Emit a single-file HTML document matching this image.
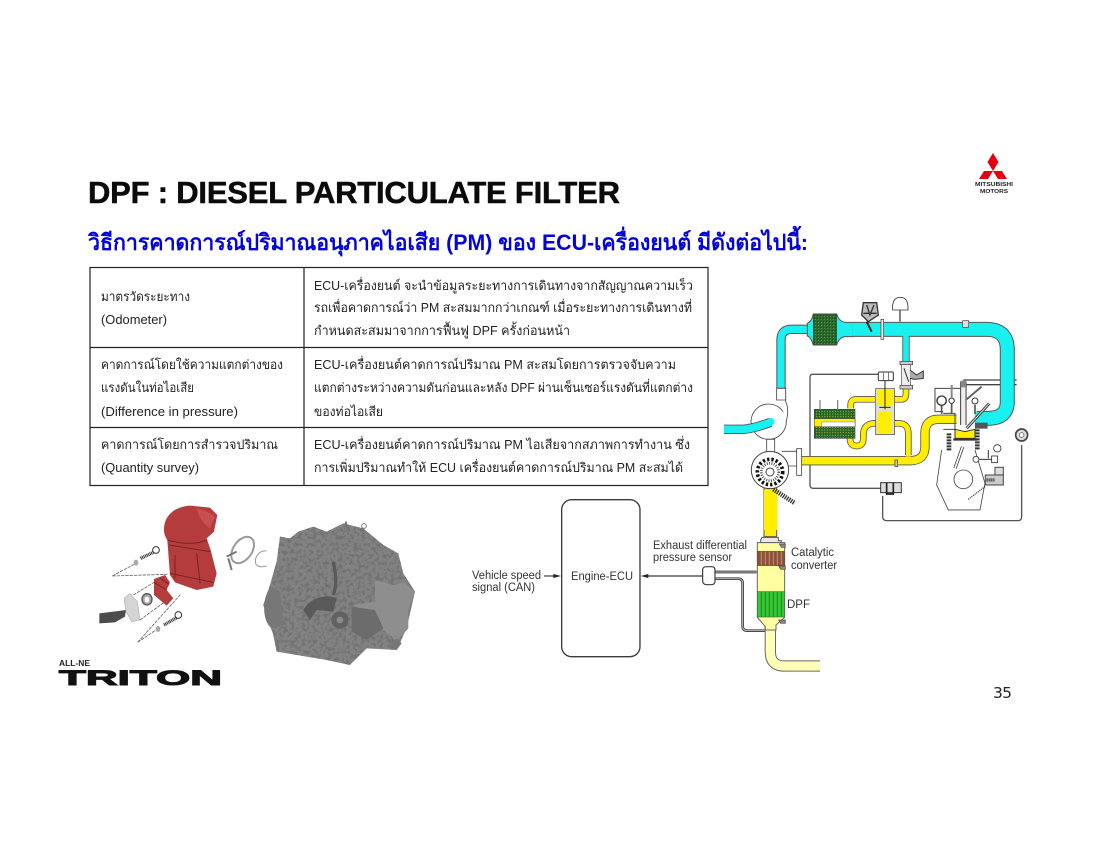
<!DOCTYPE html>
<html lang="th"><head><meta charset="utf-8"><title>DPF</title>
<style>
html,body{margin:0;padding:0;background:#fff}
svg{display:block}
.th{font-family:"Liberation Sans","Noto Sans CJK SC","Noto Sans CJK JP",sans-serif;font-size:12.8px;fill:#222}
.lb{font-family:"Liberation Sans",sans-serif;font-size:11.5px;fill:#333}
</style></head><body>
<svg xmlns="http://www.w3.org/2000/svg" width="1100" height="850" viewBox="0 0 1100 850">
<defs>
<filter id="tex" x="0" y="0" width="100%" height="100%"><feTurbulence type="fractalNoise" baseFrequency="0.09" numOctaves="3" seed="7"/><feColorMatrix values="0 0 0 0 0.17 0 0 0 0 0.17 0 0 0 0 0.17 0 0 0 5 -2.300"/><feComposite in2="SourceGraphic" operator="in"/><feMerge><feMergeNode in="SourceGraphic"/><feMergeNode/></feMerge></filter>
<pattern id="hc" width="9" height="9" patternUnits="userSpaceOnUse"><rect width="9" height="9" fill="#2c6a2c"/><circle cx="4" cy="4" r="1.700" fill="#123c12"/><circle cx="8" cy="8" r="1.200" fill="#8fbf5f"/></pattern>
<pattern id="hc2" width="8" height="8" patternUnits="userSpaceOnUse"><rect width="8" height="8" fill="#2b6a2b"/><circle cx="2" cy="4" r="1.500" fill="#d8d840"/><circle cx="6" cy="2" r="1.200" fill="#123c12"/></pattern>
</defs>

<!-- Title -->
<text x="88" y="203" textLength="532" lengthAdjust="spacing" font-family="Liberation Sans, sans-serif" font-weight="700" font-size="31" fill="#0b0b0b" stroke="#0b0b0b" stroke-width=".5">DPF : DIESEL PARTICULATE FILTER</text>
<text x="88" y="250" textLength="720" lengthAdjust="spacingAndGlyphs" font-family="Liberation Sans, Noto Sans CJK SC, sans-serif" font-weight="700" font-size="22.500" fill="#0404d8">วิธีการคาดการณ์ปริมาณอนุภาคไอเสีย (PM) ของ ECU-เครื่องยนต์ มีดังต่อไปนี้:</text>

<!-- Mitsubishi logo -->
<g fill="#e60012"><polygon points="993,153 998.500,162 993,171 987.500,162"/><polygon points="993,171 984,171 979,179 988,179"/><polygon points="993,171 1002,171 1007,179 998,179"/></g>
<text x="975" y="186" textLength="38" lengthAdjust="spacingAndGlyphs" font-family="Liberation Sans, sans-serif" font-weight="700" font-size="5.800" fill="#222">MITSUBISHI</text>
<text x="980" y="193" textLength="28" lengthAdjust="spacingAndGlyphs" font-family="Liberation Sans, sans-serif" font-weight="700" font-size="5.800" fill="#222">MOTORS</text>

<!-- Table -->
<g fill="none" stroke="#222" stroke-width="1.200"><rect x="90" y="267.500" width="618" height="218"/><path d="M304 267.500V485.500M90 347.500H708M90 427.500H708"/></g>
<g class="th">
<text class="th" x="101" y="301" textLength="89" lengthAdjust="spacingAndGlyphs">มาตรวัดระยะทาง</text>
<text class="th" x="101" y="324" textLength="66" lengthAdjust="spacingAndGlyphs">(Odometer)</text>
<text class="th" x="101" y="369" textLength="182" lengthAdjust="spacingAndGlyphs">คาดการณ์โดยใช้ความแตกต่างของ</text>
<text class="th" x="101" y="392" textLength="93" lengthAdjust="spacingAndGlyphs">แรงดันในท่อไอเสีย</text>
<text class="th" x="101" y="416" textLength="137" lengthAdjust="spacingAndGlyphs">(Difference in pressure)</text>
<text class="th" x="101" y="449" textLength="177" lengthAdjust="spacingAndGlyphs">คาดการณ์โดยการสำรวจปริมาณ</text>
<text class="th" x="101" y="472" textLength="98" lengthAdjust="spacingAndGlyphs">(Quantity survey)</text>
<text class="th" x="314" y="290" textLength="379" lengthAdjust="spacingAndGlyphs">ECU-เครื่องยนต์ จะนำข้อมูลระยะทางการเดินทางจากสัญญาณความเร็ว</text>
<text class="th" x="314" y="312" textLength="378" lengthAdjust="spacingAndGlyphs">รถเพื่อคาดการณ์ว่า PM สะสมมากกว่าเกณฑ์ เมื่อระยะทางการเดินทางที่</text>
<text class="th" x="314" y="335" textLength="256" lengthAdjust="spacingAndGlyphs">กำหนดสะสมมาจากการฟื้นฟู DPF ครั้งก่อนหน้า</text>
<text class="th" x="314" y="369" textLength="362" lengthAdjust="spacingAndGlyphs">ECU-เครื่องยนต์คาดการณ์ปริมาณ PM สะสมโดยการตรวจจับความ</text>
<text class="th" x="314" y="392" textLength="379" lengthAdjust="spacingAndGlyphs">แตกต่างระหว่างความดันก่อนและหลัง DPF ผ่านเซ็นเซอร์แรงดันที่แตกต่าง</text>
<text class="th" x="314" y="416" textLength="69" lengthAdjust="spacingAndGlyphs">ของท่อไอเสีย</text>
<text class="th" x="314" y="449" textLength="376" lengthAdjust="spacingAndGlyphs">ECU-เครื่องยนต์คาดการณ์ปริมาณ PM ไอเสียจากสภาพการทำงาน ซึ่ง</text>
<text class="th" x="314" y="472" textLength="369" lengthAdjust="spacingAndGlyphs">การเพิ่มปริมาณทำให้ ECU เครื่องยนต์คาดการณ์ปริมาณ PM สะสมได้</text>
</g>

<!-- Parts photo group -->
<g transform="translate(50,495) scale(.3333)">
<!-- engine -->
<path filter="url(#tex)" d="M690 125L720 130L745 110L790 95L830 110L880 85L940 100L1000 150L1045 175L1060 235L1095 290L1070 400L1040 465L950 460L900 510L830 495L680 470L670 420L640 330L660 270L680 200Z" fill="#828282"/>
<path d="M880 120L888 80L895 120" stroke="#777" stroke-width="5" fill="none"/><path d="M942 140V105" stroke="#777" stroke-width="4"/>
<circle cx="942" cy="93" r="7" fill="none" stroke="#777" stroke-width="3"/>
<path d="M975 255L1030 270L1065 262L1095 290L1075 345L1075 400L1040 440L1020 420L970 380L910 330L975 320Z" fill="#8e8e8e"/>
<path d="M905 335L975 345L1000 400L950 435L905 410Z" fill="#6c6c6c"/>
<path d="M1040 430L1055 445L1040 465L1010 455Z" fill="#777"/>
<path d="M665 275C635 300 635 380 665 400L700 390L690 290Z" fill="#777"/>
<path d="M760 345C785 300 840 300 860 310L850 350L800 345L780 375Z" fill="#5a5a5a"/>
<circle cx="870" cy="375" r="26" fill="#626262"/><circle cx="870" cy="375" r="10" fill="#8a8a8a"/>
<path d="M850 200C860 250 860 270 850 300" stroke="#5a5a5a" stroke-width="10" fill="none"/>
<!-- DPF -->
<path d="M342 105C342 60 375 35 420 32L480 38L502 60L492 110L470 130L482 165L500 235L490 275L440 285L375 262L360 240L352 135C345 125 342 115 342 105Z" fill="#b43c3c"/>
<path d="M312 252L345 240L360 262L350 285L370 310L350 332L312 300Z" fill="#b43c3c"/>
<path d="M440 40Q480 50 495 65L480 100Q450 80 440 40Z" fill="#c65050"/>
<path d="M352 135Q420 155 472 135M358 150L480 170M360 235L490 262M375 180L375 250M440 175L450 265" stroke="#7f2222" stroke-width="3" fill="none"/>
<path d="M312 262L350 285M330 248L356 268" stroke="#7f2222" stroke-width="3"/>
<!-- flange and pipe -->
<path d="M148 385L195 382L225 365L228 345L190 350L148 355Z" fill="#4c4c4c"/>
<path d="M222 310L240 295L262 320L270 375L245 380L228 350Z" fill="#d5d5d5" stroke="#777"/>
<ellipse cx="291" cy="313" rx="15" ry="17" fill="#aaa" stroke="#555" stroke-width="4"/>
<ellipse cx="291" cy="314" rx="7" ry="9" fill="#fff"/>
<!-- lines -->
<path d="M187 243L258 205M187 243L352 238M250 300L312 262M270 375L345 320M263 442L325 400M263 442L392 298" stroke="#666" stroke-width="2.500" stroke-dasharray="10 3" fill="none"/>
<!-- bolts -->
<path d="M272 190L310 172M342 390L385 365" stroke="#333" stroke-width="10" stroke-dasharray="3 2"/>
<circle cx="318" cy="165" r="10" fill="#fff" stroke="#333" stroke-width="3"/>
<circle cx="385" cy="360" r="10" fill="#fff" stroke="#333" stroke-width="3"/>
<ellipse cx="258" cy="203" rx="7" ry="9" fill="#aaa"/><ellipse cx="324" cy="402" rx="7" ry="9" fill="#aaa"/>
<!-- clamp -->
<ellipse cx="578" cy="165" rx="28" ry="44" transform="rotate(35 578 165)" fill="none" stroke="#999" stroke-width="6"/>
<path d="M530 185L560 170M535 190L545 225" stroke="#777" stroke-width="6"/>
<path d="M650 168C625 165 612 190 618 208C625 218 638 216 650 213" fill="none" stroke="#999" stroke-width="3"/>
</g>

<!-- TRITON logo -->
<text x="59" y="666" textLength="31" lengthAdjust="spacingAndGlyphs" font-family="Liberation Sans, sans-serif" font-weight="700" font-size="8.500" fill="#222">ALL-NE</text>
<text x="59" y="685" textLength="163" lengthAdjust="spacingAndGlyphs" font-family="Liberation Sans, sans-serif" font-weight="700" font-size="21.500" fill="#111" stroke="#111" stroke-width="1">TRITON</text>

<!-- Page number -->
<text x="993" y="698" textLength="19" font-family="DejaVu Sans, sans-serif" font-size="15.500" fill="#222">35</text>

<!-- ECU diagram -->
<g transform="translate(460,490) scale(.3333)" fill="none" stroke="#3a3a3a">
<rect x="305" y="29" width="235" height="471" rx="30" stroke-width="4"/>
<path d="M252 258H290" stroke-width="3.500"/><path d="M303 258L280 252V264Z" fill="#222" stroke="none"/>
<path d="M728 258H560" stroke-width="4"/><path d="M542 258L565 252V264Z" fill="#222" stroke="none"/>
<path d="M765 246H890" stroke-width="8"/><path d="M765 246H890" stroke="#bbb" stroke-width="3"/>
<path d="M765 266H835Q848 266 848 280V408Q848 422 862 422H915" stroke-width="8"/><path d="M765 266H835Q848 266 848 280V408Q848 422 862 422H915" stroke="#bbb" stroke-width="3"/>
<path d="M740 230H755Q765 230 765 240V274Q765 284 752 284H740Q728 284 728 272V240Q728 230 740 230Z" fill="#fff" stroke-width="3.500"/>
</g>
<!-- Exhaust -->
<g transform="translate(740,530) scale(.3333)">
<rect x="72" y="-130" width="38" height="150" fill="#ffee00" stroke="#555" stroke-width="3"/>
<path d="M66 22H115V32H124V38H62V30Z" fill="#e8e8e8" stroke="#555" stroke-width="3"/>
<path d="M91 280V365Q91 408 132 408H240" fill="none" stroke="#666" stroke-width="34"/>
<path d="M91 280V365Q91 408 132 408H240" fill="none" stroke="#ffffb8" stroke-width="28"/>
<path d="M52 38H134V262L108 285V300H76V290L52 262Z" fill="#ffffa0" stroke="#666" stroke-width="3"/>
<rect x="52" y="64" width="82" height="42" fill="#8c5332" stroke="#555" stroke-width="2"/>
<path d="M64 64V106M76 64V106M88 64V106M100 64V106M112 64V106M124 64V106" stroke="#c88" stroke-width="3"/>
<path d="M52 106H134" stroke="#555" stroke-width="3"/>
<rect x="52" y="185" width="82" height="76" fill="#34c934" stroke="#555" stroke-width="2"/>
<path d="M64 185V261M76 185V261M88 185V261M100 185V261M112 185V261M124 185V261" stroke="#1d8a1d" stroke-width="3"/>
<path d="M118 42H136V52H124ZM116 108H136V118H122ZM116 270H136V280H122Z" fill="#888" stroke="#444" stroke-width="2"/>
</g>
<text class="lb" x="653" y="549" textLength="94" lengthAdjust="spacingAndGlyphs">Exhaust differential</text>
<text class="lb" x="653" y="561" textLength="79" lengthAdjust="spacingAndGlyphs">pressure sensor</text>
<text class="lb" x="472" y="579" textLength="69" lengthAdjust="spacingAndGlyphs">Vehicle speed</text>
<text class="lb" x="472" y="591" textLength="63" lengthAdjust="spacingAndGlyphs">signal (CAN)</text>
<text class="lb" x="571" y="580" textLength="62" lengthAdjust="spacingAndGlyphs">Engine-ECU</text>
<text class="lb" x="791" y="556" textLength="43" lengthAdjust="spacingAndGlyphs">Catalytic</text>
<text class="lb" x="791" y="569" textLength="46" lengthAdjust="spacingAndGlyphs">converter</text>
<text class="lb" x="787" y="608" textLength="23" lengthAdjust="spacingAndGlyphs">DPF</text>

<!-- Engine air system -->
<g transform="translate(720,290) scale(.3333)" fill="none">
<!-- control lines (behind) -->
<path d="M475 253H278Q270 253 270 262V585Q270 595 280 595H482" stroke="#555" stroke-width="4"/>
<path d="M488 618V680Q488 692 500 692H895Q905 692 905 680V465" stroke="#555" stroke-width="4"/>
<path d="M730 270H890M730 284H890" stroke="#444" stroke-width="4"/>
<!-- cyan main pipe -->
<path d="M183 295V150Q183 118 215 118H280" stroke="#555" stroke-width="28"/>
<path d="M183 295V150Q183 118 215 118H280" stroke="#19f0f0" stroke-width="22"/>
<path d="M262 100Q275 95 280 72H350Q358 95 375 97H400V140H375Q358 142 350 165H280Q272 140 262 138Z" fill="#19f0f0" stroke="#555" stroke-width="3"/>
<rect x="280" y="72" width="70" height="93" fill="url(#hc)" stroke="#444" stroke-width="2"/>
<path d="M400 118H800Q862 118 862 180V335Q862 385 805 385H770" stroke="#555" stroke-width="45"/>
<path d="M398 118H800Q862 118 862 180V335Q862 385 805 385H765" stroke="#19f0f0" stroke-width="39"/>
<path d="M558 140V220" stroke="#555" stroke-width="22"/><path d="M558 135V220" stroke="#19f0f0" stroke-width="17"/>
<!-- compressor -->
<circle cx="146" cy="395" r="53" fill="#fff" stroke="#444" stroke-width="2.500"/>
<path d="M170 295H197V335C205 350 205 375 198 395" fill="#fff" stroke="#444" stroke-width="2.500"/>
<path d="M170 295H197V330H170Z" fill="#fff" stroke="#444" stroke-width="2.500"/>
<!-- intake left -->
<path d="M12 418H70Q100 416 152 397" stroke="#555" stroke-width="28"/>
<path d="M12 418H70Q100 416 152 397" stroke="#19f0f0" stroke-width="23"/>
<circle cx="152" cy="395" r="11.500" fill="#19f0f0"/>
<rect x="140" y="448" width="24" height="38" fill="#fff" stroke="#444" stroke-width="2.500"/>
<!-- yellow pipes -->
<path d="M240 512H570Q615 512 615 470V430Q615 388 655 388H710" stroke="#555" stroke-width="28"/>
<path d="M240 512H570Q615 512 615 470V430Q615 388 655 388H710" stroke="#ffee00" stroke-width="23"/>
<path d="M565 495V430Q565 400 535 400H465Q430 400 430 435V445Q430 468 410 468Q390 468 390 445V438" stroke="#555" stroke-width="20"/>
<path d="M565 500V430Q565 400 535 400H465Q430 400 430 435V445Q430 468 410 468Q390 468 390 445V438" stroke="#ffee00" stroke-width="15"/>
<path d="M392 355V345Q392 328 410 328H465M525 328H545Q558 328 558 310V295" stroke="#555" stroke-width="20"/>
<path d="M392 355V345Q392 328 410 328H465M525 328H545Q558 328 558 310V295" stroke="#ffee00" stroke-width="15"/>
<!-- EGR valve box -->
<rect x="467" y="296" width="57" height="138" fill="#ddd" stroke="#444" stroke-width="2"/>
<path d="M472 300H520V345H505V355H490V345H472Z" fill="#ffee00"/>
<path d="M475 365H515V430H472V385Z" fill="#ffee00"/>
<path d="M495 270V358M478 352H512" stroke="#222" stroke-width="3"/>
<rect x="475" y="246" width="45" height="26" rx="3" fill="#fff" stroke="#333" stroke-width="3"/>
<path d="M490 248V270M505 248V270" stroke="#333" stroke-width="2"/>
<!-- throttle -->
<rect x="545" y="222" width="26" height="68" fill="#eee" stroke="#444" stroke-width="2"/>
<path d="M552 235L566 275" stroke="#333" stroke-width="3"/>
<rect x="540" y="214" width="38" height="10" fill="#ccc" stroke="#333" stroke-width="2"/>
<rect x="540" y="286" width="38" height="11" fill="#ccc" stroke="#333" stroke-width="2"/>
<path d="M570 240L590 255L610 243V265L585 268L570 265" fill="#aaa" stroke="#333" stroke-width="3"/>
<!-- intercooler -->
<path d="M283 358H405V445H283Z" fill="url(#hc2)" stroke="#444" stroke-width="2"/>
<rect x="283" y="386" width="122" height="24" fill="#ffee00" stroke="#444" stroke-width="1.500"/>
<path d="M305 396H405V410H305Z" fill="#fff" stroke="#444" stroke-width="1"/>
<path d="M300 330V358M353 330V358" stroke="#888" stroke-width="4"/>
<!-- solenoid and sensor -->
<rect x="482" y="578" width="62" height="30" fill="#ddd" stroke="#333" stroke-width="3"/>
<path d="M500 578V612H520V578" stroke="#222" stroke-width="5"/>
<circle cx="905" cy="435" r="18" stroke="#444" stroke-width="5" fill="#ddd"/><circle cx="905" cy="435" r="7" fill="#fff" stroke="#444" stroke-width="2"/>
<!-- turbine -->
<circle cx="150" cy="540" r="56" fill="#fff" stroke="#444" stroke-width="3"/>
<rect x="230" y="476" width="15" height="80" fill="#fff" stroke="#444" stroke-width="2.500"/>
<path d="M185 484H230M205 528H230" stroke="#444" stroke-width="2.500"/>
<circle cx="150" cy="546" r="38" stroke="#111" stroke-width="11" stroke-dasharray="7 6" fill="#fff"/>
<circle cx="150" cy="546" r="26" stroke="#555" stroke-width="8" stroke-dasharray="3 4"/>
<circle cx="150" cy="546" r="12" fill="#fff" stroke="#444" stroke-width="3"/>
<path d="M132 600H172V720H132Z" fill="#ffee00"/>
<path d="M160 598L225 640" stroke="#333" stroke-width="14" stroke-dasharray="4 3"/>
<rect x="525" y="510" width="8" height="20" fill="#ccc" stroke="#333" stroke-width="2"/>
<!-- top parts -->
<path d="M430 38H470L475 75L445 95L425 75Z" fill="#bbb" stroke="#333" stroke-width="4"/>
<path d="M440 45L450 75L462 45M430 70L470 70" stroke="#333" stroke-width="4"/>
<path d="M440 95L455 125" stroke="#222" stroke-width="6"/>
<rect x="483" y="88" width="8" height="60" fill="#eee" stroke="#333" stroke-width="2"/>
<path d="M518 60Q515 22 541 22Q566 22 564 60Z" fill="#fff" stroke="#333" stroke-width="2.500"/>
<path d="M540 60V95" stroke="#444" stroke-width="4"/>
<rect x="728" y="92" width="18" height="20" fill="#ddd" stroke="#444" stroke-width="2"/>
<!-- engine outline -->
<path d="M645 365V295H725M645 365H670" stroke="#444" stroke-width="3"/>
<path d="M670 370H705V418H670" stroke="#444" stroke-width="3"/>
<path d="M665 480L650 585L685 660H780L795 580L765 480" fill="#fff" stroke="#444" stroke-width="2.500"/>
<circle cx="730" cy="568" r="28" fill="#fff" stroke="#444" stroke-width="2.500"/>
<path d="M728 470L705 535" stroke="#444" stroke-width="10"/><path d="M728 470L705 535" stroke="#fff" stroke-width="5"/>
<path d="M705 418L735 425L765 418V445H705Z" fill="#ffee00" stroke="#333" stroke-width="3"/>
<path d="M700 445H772V452H700Z" fill="#333"/>
<path d="M687 430V482M772 400V478" stroke="#333" stroke-width="14" stroke-dasharray="6 3"/>
<path d="M730 275V405" stroke="#555" stroke-width="20"/><path d="M730 275V405" stroke="#eee" stroke-width="13"/>
<rect x="722" y="272" width="16" height="20" fill="#888"/>
<path d="M740 415L808 340" stroke="#444" stroke-width="9"/><path d="M740 415L808 340" stroke="#ddd" stroke-width="3"/>
<path d="M740 328L785 290" stroke="#666" stroke-width="6"/>
<circle cx="665" cy="332" r="14" fill="#fff" stroke="#333" stroke-width="4"/>
<circle cx="695" cy="332" r="8" stroke="#333" stroke-width="3"/><path d="M695 285V322" stroke="#888" stroke-width="6"/>
<path d="M665 346V372M695 340V372M765 345V372" stroke="#555" stroke-width="5"/>
<circle cx="765" cy="333" r="9" fill="#fff" stroke="#333" stroke-width="3"/>
<rect x="765" y="398" width="38" height="18" fill="#555"/>
<circle cx="768" cy="508" r="9" fill="#fff" stroke="#333" stroke-width="2.500"/>
<circle cx="832" cy="475" r="11" fill="#fff" stroke="#333" stroke-width="2.500"/>
<path d="M777 508H815M805 480V505" stroke="#333" stroke-width="3"/>
<rect x="815" y="498" width="18" height="20" fill="#fff" stroke="#333" stroke-width="2.500"/>
<rect x="825" y="532" width="25" height="23" fill="#ddd" stroke="#444" stroke-width="3"/>
<rect x="796" y="555" width="54" height="30" fill="#ccc" stroke="#444" stroke-width="3"/>
<path d="M800 570H825" stroke="#222" stroke-width="10" stroke-dasharray="3 3"/>
<path d="M745 628L795 590" stroke="#333" stroke-width="4" stroke-dasharray="3 3"/>
</g>
</svg>
</body></html>
